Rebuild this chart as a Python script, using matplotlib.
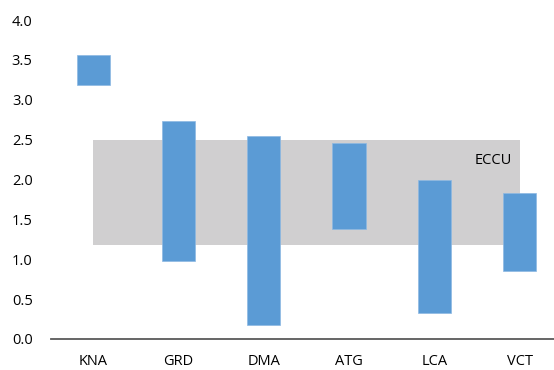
import matplotlib
matplotlib.use("Agg")
import matplotlib.pyplot as plt

# country ranges (low, high)
countries = ["KNA", "GRD", "DMA", "ATG", "LCA", "VCT"]
low = [3.18, 0.98, 0.17, 1.38, 0.33, 0.85]
high = [3.56, 2.73, 2.545, 2.46, 1.99, 1.83]

# ECCU band
eccu_low = 1.18
eccu_high = 2.5
eccu_label = "ECCU"

yticks = [0.0, 0.5, 1.0, 1.5, 2.0, 2.5, 3.0, 3.5, 4.0]

plt.rcParams['font.family'] = ['Open Sans', 'DejaVu Sans']

fig = plt.figure(figsize=(5.54, 3.70), dpi=100)
# axes spans slightly past the right edge, like the cropped original
ax = fig.add_axes([50.7 / 554, 31 / 370, 511.5 / 554, 319 / 370])

x = list(range(len(countries)))

# grey ECCU range behind the bars
ax.fill_between([x[0], x[-1]], eccu_low, eccu_high, color="#D0CFD0", linewidth=0, zorder=1)
ax.text(4.91, 2.24, eccu_label, ha="right", va="center", fontsize=10.5, color="#000000", zorder=3)

heights = [h - l for l, h in zip(low, high)]
ax.bar(x, heights, bottom=low, width=0.39, color="#5B9BD5", edgecolor="#8DB9E3",
       linewidth=0.5, zorder=2)

ax.set_xlim(-0.5, len(countries) - 0.5)
ax.set_ylim(0, 4.0)
ax.set_yticks(yticks)
ax.set_yticklabels([f"{v:.1f}" for v in yticks])
ax.set_xticks(x)
ax.set_xticklabels(countries)

for s in ["top", "right", "left"]:
    ax.spines[s].set_visible(False)
ax.spines["bottom"].set_color("#595959")
ax.spines["bottom"].set_linewidth(1.3)
ax.spines["bottom"].set_zorder(4)

ax.tick_params(axis="both", length=0, labelsize=10.5, colors="#000000")
ax.tick_params(axis="y", pad=13)
ax.tick_params(axis="x", pad=10.5)

fig.savefig("out.png", dpi=100)
